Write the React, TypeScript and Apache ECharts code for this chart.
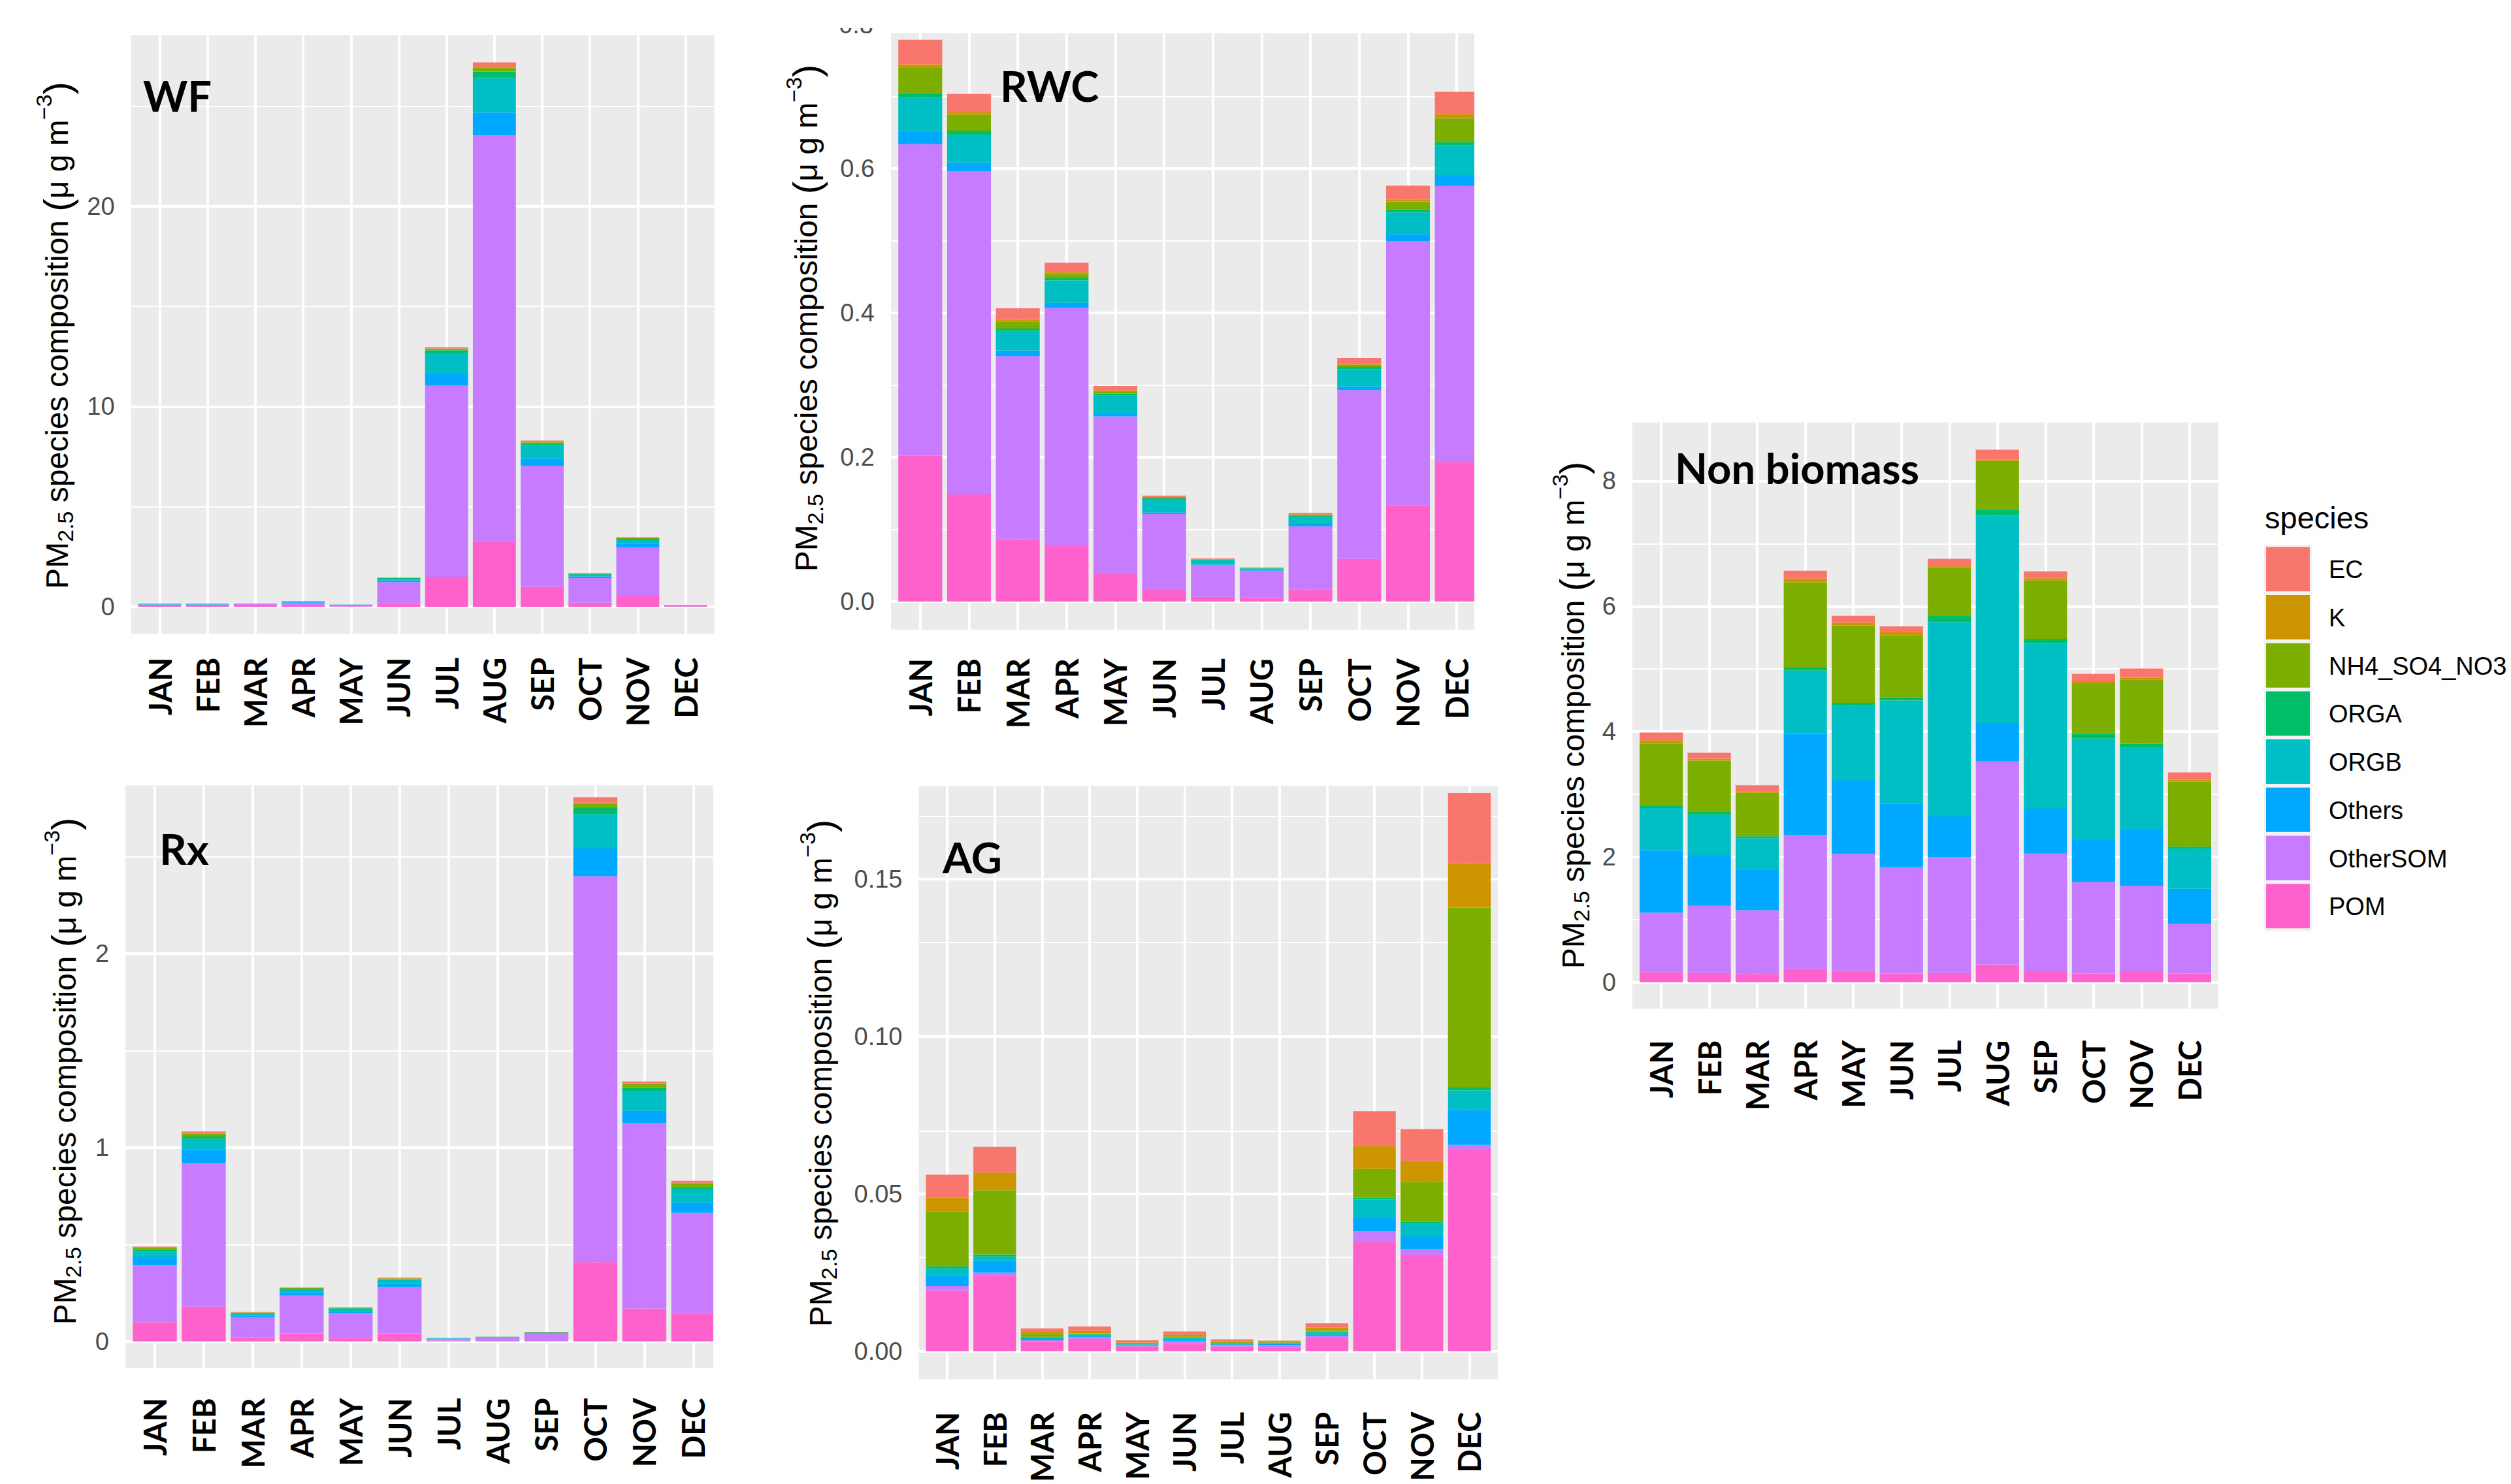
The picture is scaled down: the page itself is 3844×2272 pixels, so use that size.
import React, { useEffect, useRef } from 'react';
import * as echarts from 'echarts';

// ---------------- data ----------------
const MONTHS = ['JAN', 'FEB', 'MAR', 'APR', 'MAY', 'JUN', 'JUL', 'AUG', 'SEP', 'OCT', 'NOV', 'DEC'];
const LEGEND_ORDER = ['EC', 'K', 'NH4_SO4_NO3', 'ORGA', 'ORGB', 'Others', 'OtherSOM', 'POM'];
const STACK_ORDER = ['POM', 'OtherSOM', 'Others', 'ORGB', 'ORGA', 'NH4_SO4_NO3', 'K', 'EC'];
const SPECIES_COLORS: Record<string, string> = {
  EC: '#F8766D', K: '#CD9600', NH4_SO4_NO3: '#7CAE00', ORGA: '#00BE67',
  ORGB: '#00BFC4', Others: '#00A9FF', OtherSOM: '#C77CFF', POM: '#FF61CC',
};

// WF
const WF_POM = [0.03, 0.03, 0.03, 0.03, 0.02, 0.185, 1.5, 3.25, 0.99, 0.2, 0.55, 0.02];
const WF_OTHERSOM = [0.07, 0.07, 0.1, 0.17, 0.08, 1.046, 9.54, 20.28, 6.05, 1.23, 2.41, 0.06];
const WF_OTHERS = [0.02, 0.02, 0.01, 0.04, 0.005, 0.087, 0.565, 1.15, 0.37, 0.08, 0.19, 0.005];
const WF_ORGB = [0.025, 0.025, 0.01, 0.03, 0.005, 0.065, 1.08, 1.72, 0.66, 0.09, 0.17, 0.005];
const WF_ORGA = [0.003, 0.003, 0.002, 0.005, 0.001, 0.054, 0.12, 0.33, 0.09, 0.04, 0.07, 0.001];
const WF_NH4 = [0.002, 0.002, 0.001, 0.002, 0.001, 0.01, 0.07, 0.19, 0.05, 0.01, 0.04, 0.001];
const WF_K = [0.001, 0.001, 0.001, 0.001, 0, 0.003, 0.02, 0.05, 0.015, 0.005, 0.01, 0];
const WF_EC = [0.002, 0.002, 0.002, 0.003, 0.001, 0.01, 0.07, 0.21, 0.07, 0.03, 0.04, 0.001];

// RWC
const RWC_POM = [0.202, 0.1485, 0.0853, 0.0769, 0.039, 0.0163, 0.0065, 0.005, 0.017, 0.059, 0.1335, 0.1935];
const RWC_OTHERSOM = [0.432, 0.448, 0.2548, 0.33, 0.2176, 0.105, 0.0437, 0.0378, 0.0873, 0.234, 0.366, 0.3824];
const RWC_OTHERS = [0.018, 0.012, 0.008, 0.007, 0.004, 0.002, 0.001, 0.001, 0.0026, 0.005, 0.0098, 0.015];
const RWC_ORGB = [0.046, 0.038, 0.027, 0.031, 0.0248, 0.0176, 0.006, 0.002, 0.0104, 0.024, 0.03, 0.041];
const RWC_ORGA = [0.0065, 0.006, 0.0033, 0.003, 0.0026, 0.002, 0.001, 0.0005, 0.002, 0.003, 0.004, 0.0046];
const RWC_NH4 = [0.035, 0.022, 0.0097, 0.006, 0.0026, 0.001, 0.0005, 0.0003, 0.001, 0.003, 0.011, 0.033];
const RWC_K = [0.005, 0.004, 0.0026, 0.0026, 0.002, 0.001, 0.0003, 0.0002, 0.0005, 0.001, 0.003, 0.006];
const RWC_EC = [0.034, 0.025, 0.0156, 0.013, 0.006, 0.002, 0.001, 0.0005, 0.002, 0.0085, 0.019, 0.031];

// Non biomass
const NB_POM = [0.16, 0.146, 0.13, 0.21, 0.18, 0.14, 0.146, 0.285, 0.175, 0.14, 0.175, 0.14];
const NB_OTHERSOM = [0.95, 1.075, 1.02, 2.14, 1.87, 1.695, 1.85, 3.238, 1.879, 1.461, 1.367, 0.796];
const NB_OTHERS = [1.0, 0.81, 0.66, 1.615, 1.17, 1.016, 0.65, 0.614, 0.716, 0.68, 0.885, 0.555];
const NB_ORGB = [0.672, 0.643, 0.49, 1.009, 1.19, 1.645, 3.1, 3.312, 2.632, 1.608, 1.323, 0.644];
const NB_ORGA = [0.03, 0.044, 0.03, 0.05, 0.05, 0.05, 0.1, 0.095, 0.08, 0.073, 0.058, 0.03];
const NB_NH4 = [1.0, 0.82, 0.694, 1.36, 1.235, 0.994, 0.775, 0.775, 0.929, 0.811, 1.024, 1.038];
const NB_K = [0.05, 0.03, 0.02, 0.06, 0.045, 0.045, 0.02, 0.02, 0.037, 0.03, 0.03, 0.03];
const NB_EC = [0.124, 0.095, 0.1, 0.124, 0.11, 0.095, 0.117, 0.16, 0.11, 0.117, 0.146, 0.117];

// Rx
const RX_POM = [0.1, 0.18, 0.021, 0.0415, 0.017, 0.0415, 0.0045, 0.002, 0.002, 0.41, 0.17, 0.142];
const RX_OTHERSOM = [0.292, 0.738, 0.106, 0.195, 0.129, 0.239, 0.008, 0.0168, 0.039, 1.989, 0.956, 0.522];
const RX_OTHERS = [0.045, 0.07, 0.006, 0.018, 0.008, 0.016, 0.002, 0.002, 0.002, 0.143, 0.065, 0.054];
const RX_ORGB = [0.026, 0.057, 0.011, 0.0146, 0.0146, 0.021, 0.003, 0.003, 0.002, 0.178, 0.098, 0.07];
const RX_ORGA = [0.009, 0.012, 0.003, 0.0034, 0.003, 0.004, 0.0005, 0.0005, 0.002, 0.035, 0.019, 0.009];
const RX_NH4 = [0.009, 0.014, 0.002, 0.003, 0.002, 0.003, 0.0003, 0.0003, 0.002, 0.019, 0.019, 0.019];
const RX_K = [0.003, 0.004, 0.001, 0.002, 0.001, 0.002, 0.0001, 0.0001, 0.0005, 0.005, 0.004, 0.003];
const RX_EC = [0.006, 0.008, 0.002, 0.002, 0.002, 0.003, 0.0005, 0.0005, 0.001, 0.028, 0.01, 0.01];

// AG
const AG_POM = [0.0193, 0.024, 0.0032, 0.0035, 0.0016, 0.0024, 0.0016, 0.0013, 0.0041, 0.0348, 0.0305, 0.0643];
const AG_OTHERSOM = [0.0014, 0.001, 0.0003, 0.001, 0.0003, 0.0009, 0.0004, 0.0007, 0.0008, 0.0033, 0.002, 0.0013];
const AG_OTHERS = [0.0033, 0.0037, 0.0004, 0.0003, 0.0002, 0.0003, 0.0002, 0.0003, 0.0003, 0.0042, 0.004, 0.0111];
const AG_ORGB = [0.0024, 0.0014, 0.0005, 0.0004, 0.0002, 0.0006, 0.0003, 0.0003, 0.0009, 0.0059, 0.004, 0.0062];
const AG_ORGA = [0.0006, 0.0007, 0.0002, 0.0002, 0.0001, 0.0002, 0.0001, 0.0001, 0.0002, 0.0006, 0.0006, 0.0009];
const AG_NH4 = [0.0175, 0.0204, 0.0009, 0.0003, 0.0003, 0.0003, 0.0003, 0.0002, 0.0004, 0.0092, 0.0127, 0.0572];
const AG_K = [0.0043, 0.0056, 0.0007, 0.0008, 0.0001, 0.0006, 0.0003, 0.0002, 0.0008, 0.0072, 0.0066, 0.0141];
const AG_EC = [0.0073, 0.0082, 0.0011, 0.0014, 0.0007, 0.001, 0.0006, 0.0003, 0.0014, 0.0111, 0.0102, 0.0223];

// tick values
const WF_TICKS = [0, 10, 20];
const WF_MINOR = [5, 15, 25];
const RWC_TICKS = [0, 0.2, 0.4, 0.6];
const RWC_MINOR = [0.1, 0.3, 0.5, 0.7];
const NB_TICKS = [0, 2, 4, 6, 8];
const NB_MINOR = [1, 3, 5, 7];
const RX_TICKS = [0, 1, 2];
const RX_MINOR = [0.5, 1.5, 2.5];
const AG_TICKS = [0, 0.05, 0.1, 0.15];
const AG_MINOR = [0.025, 0.075, 0.125, 0.175];

// ---------------- layout ----------------
type Panel = {
  title: string;
  data: Record<string, number[]>;
  grid: { left: number; top: number; width: number; height: number };
  xMin: number; xMax: number; yMin: number; yMax: number;
  ticks: number[]; minor: number[];
  fmt: (v: number) => string;
  xLabelMargin: number;
  titlePos: [number, number];
  yTitlePos: [number, number];
  cropRight?: boolean;
};

const PANELS: Panel[] = [
  {
    title: 'WF',
    data: { POM: WF_POM, OtherSOM: WF_OTHERSOM, Others: WF_OTHERS, ORGB: WF_ORGB, ORGA: WF_ORGA, NH4_SO4_NO3: WF_NH4, K: WF_K, EC: WF_EC },
    grid: { left: 200.6, top: 53.9, width: 892.9, height: 916.7 },
    xMin: -0.6, xMax: 11.6, yMin: -1.36, yMax: 28.54,
    ticks: WF_TICKS, minor: WF_MINOR, fmt: (v) => String(v),
    xLabelMargin: 36, titlePos: [219, 146], yTitlePos: [87.4, 513.5],
  },
  {
    title: 'RWC',
    data: { POM: RWC_POM, OtherSOM: RWC_OTHERSOM, Others: RWC_OTHERS, ORGB: RWC_ORGB, ORGA: RWC_ORGA, NH4_SO4_NO3: RWC_NH4, K: RWC_K, EC: RWC_EC },
    grid: { left: 1364, top: 51, width: 893, height: 913 },
    xMin: -0.6, xMax: 11.36, yMin: -0.0389, yMax: 0.7874,
    ticks: RWC_TICKS, minor: RWC_MINOR, fmt: (v) => v.toFixed(1),
    xLabelMargin: 44, titlePos: [1531, 131], yTitlePos: [1234.6, 487], cropRight: true,
  },
  {
    title: 'Non biomass',
    data: { POM: NB_POM, OtherSOM: NB_OTHERSOM, Others: NB_OTHERS, ORGB: NB_ORGB, ORGA: NB_ORGA, NH4_SO4_NO3: NB_NH4, K: NB_K, EC: NB_EC },
    grid: { left: 2499, top: 646.7, width: 897, height: 897.9 },
    xMin: -0.6, xMax: 11.6, yMin: -0.425, yMax: 8.935,
    ticks: NB_TICKS, minor: NB_MINOR, fmt: (v) => String(v),
    xLabelMargin: 48, titlePos: [2564, 716], yTitlePos: [2408.4, 1095],
  },
  {
    title: 'Rx',
    data: { POM: RX_POM, OtherSOM: RX_OTHERSOM, Others: RX_OTHERS, ORGB: RX_ORGB, ORGA: RX_ORGA, NH4_SO4_NO3: RX_NH4, K: RX_K, EC: RX_EC },
    grid: { left: 192, top: 1202.3, width: 900, height: 892.1 },
    xMin: -0.6, xMax: 11.41, yMin: -0.1365, yMax: 2.868,
    ticks: RX_TICKS, minor: RX_MINOR, fmt: (v) => String(v),
    xLabelMargin: 46, titlePos: [244, 1299], yTitlePos: [99, 1640], cropRight: true,
  },
  {
    title: 'AG',
    data: { POM: AG_POM, OtherSOM: AG_OTHERSOM, Others: AG_OTHERS, ORGB: AG_ORGB, ORGA: AG_ORGA, NH4_SO4_NO3: AG_NH4, K: AG_K, EC: AG_EC },
    grid: { left: 1406.5, top: 1203, width: 886.5, height: 913.6 },
    xMin: -0.6, xMax: 11.6, yMin: -0.0089, yMax: 0.1797,
    ticks: AG_TICKS, minor: AG_MINOR, fmt: (v) => v.toFixed(2),
    xLabelMargin: 50, titlePos: [1443, 1312], yTitlePos: [1256.4, 1643],
  },
];

const AXIS_FONT = 'Liberation Sans, Arial, sans-serif';
const BOLD_FONT = 'Lato, Noto Sans, sans-serif';

function yTitle(cx: number, cy: number) {
  return {
    type: 'text',
    x: cx, y: cy, rotation: Math.PI / 2, z: 60,
    style: {
      text: '{t|PM}{s|2.5}{t| species composition }{p|(}{t|\u03bc g m}{u|\u22123}{p|)}',
      align: 'center', verticalAlign: 'middle',
      rich: {
        t: { fontSize: 48, fontFamily: AXIS_FONT, fill: '#000000' },
        s: { fontSize: 34, fontFamily: AXIS_FONT, fill: '#000000', padding: [26, 0, 0, 0] },
        u: { fontSize: 34, fontFamily: AXIS_FONT, fill: '#000000', padding: [0, 0, 40, 0] },
        p: { fontSize: 58, fontFamily: AXIS_FONT, fill: '#000000' },
      },
    },
  };
}

function buildOption() {
  const idx = MONTHS.map((_, i) => i);
  const grids: any[] = [];
  const xAxes: any[] = [];
  const yAxes: any[] = [];
  const series: any[] = [];
  const graphics: any[] = [];

  PANELS.forEach((p, pi) => {
    grids.push({ ...p.grid, show: true, backgroundColor: '#EBEBEB', borderWidth: 0, containLabel: false });
    xAxes.push({
      type: 'value', gridIndex: pi, min: p.xMin, max: p.xMax,
      axisLine: { show: false }, splitLine: { show: false },
      axisTick: { show: true, customValues: idx, length: 11, lineStyle: { color: '#333333', width: 4 } },
      axisLabel: {
        customValues: idx, formatter: (v: number) => MONTHS[Math.round(v)] || '',
        rotate: 90, margin: p.xLabelMargin, fontFamily: BOLD_FONT, fontWeight: 'bold',
        fontSize: 47, color: '#000000',
      },
    });
    yAxes.push({
      type: 'value', gridIndex: pi, min: p.yMin, max: p.yMax,
      axisLine: { show: false }, splitLine: { show: false },
      axisTick: { show: true, customValues: p.ticks, length: 12, lineStyle: { color: '#333333', width: 4 } },
      axisLabel: {
        customValues: p.ticks, formatter: p.fmt, margin: 25,
        fontFamily: AXIS_FONT, fontSize: 38, color: '#4D4D4D',
      },
    });
    const u = p.grid.width / (p.xMax - p.xMin);
    STACK_ORDER.forEach((sp, si) => {
      const s: any = {
        type: 'bar', name: sp, xAxisIndex: pi, yAxisIndex: pi, stack: 'panel' + pi,
        barWidth: 0.9 * u, clip: true,
        itemStyle: { color: SPECIES_COLORS[sp] },
        emphasis: { disabled: true },
        // value first so that the stack is computed on the y dimension
        encode: { x: 1, y: 0 },
        data: p.data[sp].map((v, j) => [v, j]),
      };
      if (si === 0) {
        s.markLine = {
          silent: true, symbol: ['none', 'none'], z: 1, animation: false,
          label: { show: false }, emphasis: { disabled: true },
          lineStyle: { color: '#FFFFFF', type: 'solid', width: 4 },
          data: [
            ...p.minor.filter((v) => v < p.yMax).map((v) => ({ yAxis: v, lineStyle: { color: '#FFFFFF', type: 'solid', width: 2 } })),
            ...p.ticks.map((v) => ({ yAxis: v, lineStyle: { color: '#FFFFFF', type: 'solid', width: 4 } })),
            ...idx.map((v) => ({ xAxis: v, lineStyle: { color: '#FFFFFF', type: 'solid', width: 4 } })),
          ],
        };
      }
      series.push(s);
    });

    graphics.push({
      type: 'text', x: p.titlePos[0], y: p.titlePos[1], z: 60,
      style: { text: p.title, fontFamily: BOLD_FONT, fontWeight: 'bold', fontSize: 65, fill: '#000000', align: 'left', verticalAlign: 'middle' },
    });
    graphics.push(yTitle(p.yTitlePos[0], p.yTitlePos[1]));

    // the source image is cropped on the right of this panel: hide bar overflow
    if (p.cropRight) {
      const rx = p.grid.left + p.grid.width;
      graphics.push({
        type: 'rect', x: rx, y: p.grid.top - 10, z: 100,
        shape: { width: 60, height: p.grid.height + 8 }, style: { fill: '#FFFFFF' },
      });
    }
  });

  // partially cropped "0.8" label of the RWC panel
  graphics.push({
    type: 'text', x: 1337, y: 38, z: 60,
    style: { text: '0.8', fontFamily: AXIS_FONT, fontSize: 38, fill: '#4D4D4D', align: 'right', verticalAlign: 'middle' },
  });
  graphics.push({ type: 'rect', x: 1280, y: 0, z: 100, shape: { width: 80, height: 43 }, style: { fill: '#FFFFFF' } });

  // legend
  const LX = 3466, LY = 834, PITCH = 73.7;
  graphics.push({
    type: 'text', x: 3467, y: 792, z: 60,
    style: { text: 'species', fontFamily: AXIS_FONT, fontSize: 47, fill: '#000000', align: 'left', verticalAlign: 'middle' },
  });
  graphics.push({ type: 'rect', x: LX, y: LY, z: 60, shape: { width: 73, height: PITCH * LEGEND_ORDER.length + 2 }, style: { fill: '#F2F2F2' } });
  LEGEND_ORDER.forEach((sp, i) => {
    graphics.push({ type: 'rect', x: LX + 3, y: LY + 3.3 + PITCH * i, z: 61, shape: { width: 67, height: 68 }, style: { fill: SPECIES_COLORS[sp] } });
    graphics.push({
      type: 'text', x: 3565, y: LY + 3.3 + PITCH * i + 35, z: 61,
      style: { text: sp, fontFamily: AXIS_FONT, fontSize: 38, fill: '#000000', align: 'left', verticalAlign: 'middle' },
    });
  });

  return {
    animation: false,
    backgroundColor: '#FFFFFF',
    grid: grids, xAxis: xAxes, yAxis: yAxes, series,
    graphic: { elements: graphics },
  };
}

export default function App() {
  const ref = useRef<HTMLDivElement>(null);
  useEffect(() => {
    if (!ref.current) return;
    const chart = echarts.init(ref.current, null, { renderer: 'svg' });
    chart.setOption(buildOption() as any);
    return () => chart.dispose();
  }, []);
  return <div ref={ref} style={{ position: 'absolute', left: 0, top: 0, width: 3844, height: 2272, background: '#fff' }} />;
}
